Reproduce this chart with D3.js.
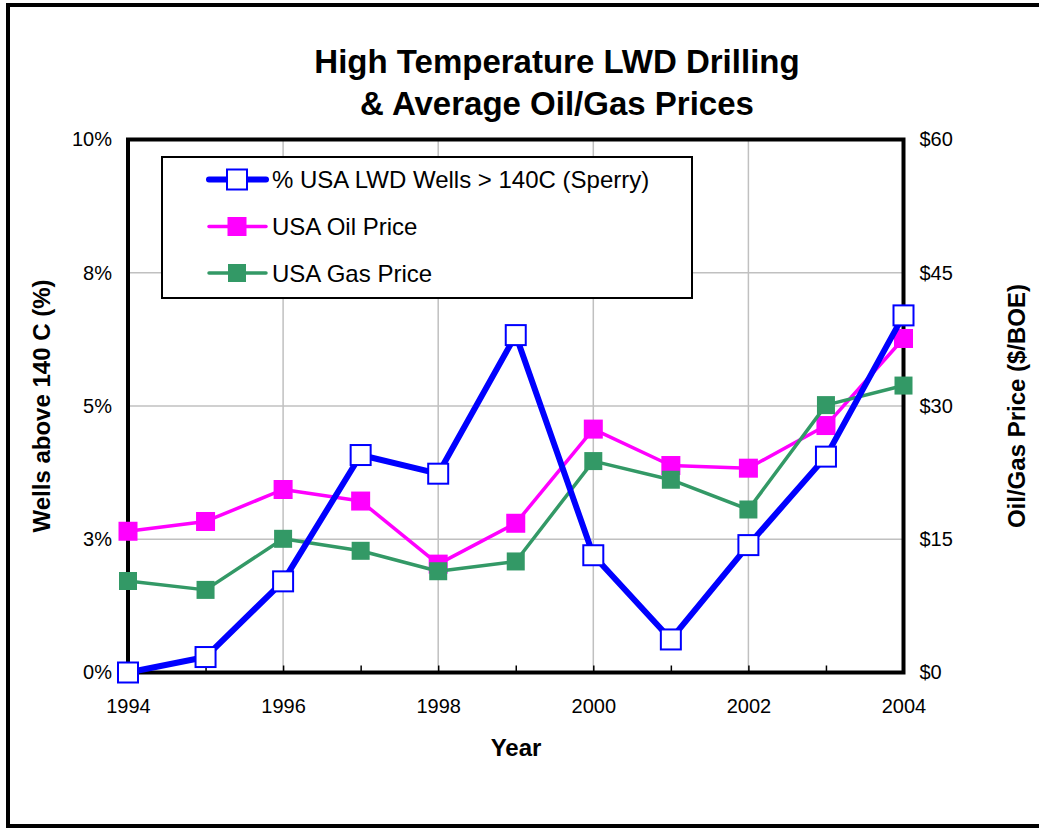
<!DOCTYPE html>
<html>
<head>
<meta charset="utf-8">
<script src="https://cdn.jsdelivr.net/npm/d3@7/dist/d3.min.js"></script>
<style>
  html, body { margin: 0; padding: 0; background: #fff; }
  svg { display: block; font-family: "Liberation Sans", Arial, sans-serif; }
</style>
</head>
<body>
<svg id="chart" width="1039" height="828"></svg>
<script>
// ---- data ----
const years = [1994, 1995, 1996, 1997, 1998, 1999, 2000, 2001, 2002, 2003, 2004];
const wellsPct = [0.0, 0.29, 1.71, 4.08, 3.73, 6.33, 2.20, 0.62, 2.39, 4.05, 6.70];
const oilPrice = [15.9, 17.0, 20.6, 19.3, 12.2, 16.8, 27.4, 23.3, 23.0, 27.8, 37.6];
const gasPrice = [10.3, 9.3, 15.05, 13.7, 11.4, 12.5, 23.8, 21.7, 18.35, 30.1, 32.3];
const leftTickValues = [0, 2.5, 5, 7.5, 10];
const leftTickLabels = ["0%", "3%", "5%", "8%", "10%"];
const rightTickValues = [0, 15, 30, 45, 60];
const rightTickLabels = ["$0", "$15", "$30", "$45", "$60"];
const xLabelYears = [1994, 1996, 1998, 2000, 2002, 2004];
const seriesNames = ["% USA LWD Wells > 140C (Sperry)", "USA Oil Price", "USA Gas Price"];
const titleLines = ["High Temperature LWD Drilling", "& Average Oil/Gas Prices"];

// ---- layout ----
const svg = d3.select("#chart");
const L = 128, R = 903.5, T = 139.5, B = 672.5;
const x = d3.scaleLinear().domain([1994, 2004]).range([L, R]);
const yL = d3.scaleLinear().domain([0, 10]).range([B, T]);
const yR = d3.scaleLinear().domain([0, 60]).range([B, T]);

// outer frame
svg.append("rect").attr("x", 8).attr("y", 5).attr("width", 1040).attr("height", 821)
  .attr("fill", "#fff").attr("stroke", "#000").attr("stroke-width", 4);

// title
svg.append("g").selectAll("text").data(titleLines).join("text")
  .attr("x", 557).attr("y", (d, i) => 73 + i * 42)
  .attr("text-anchor", "middle").attr("font-weight", "bold").attr("font-size", 33)
  .text(d => d);

// gridlines
const grid = svg.append("g").attr("stroke", "#c0c0c0").attr("stroke-width", 1.5);
grid.selectAll("line.h").data(leftTickValues.filter(v => v > 0 && v < 10)).join("line")
  .attr("x1", L).attr("x2", R).attr("y1", d => yL(d)).attr("y2", d => yL(d));
grid.selectAll("line.v").data(xLabelYears.filter(v => v > 1994 && v < 2004)).join("line")
  .attr("y1", T).attr("y2", B).attr("x1", d => x(d)).attr("x2", d => x(d));

// x axis
const xAxis = d3.axisBottom(x).tickValues(years)
  .tickFormat(d => xLabelYears.includes(d) ? String(d) : "")
  .tickSizeInner(-7).tickSizeOuter(0).tickPadding(0);
const gx = svg.append("g").attr("transform", `translate(0,${B})`).call(xAxis);
gx.select(".domain").remove();
gx.selectAll(".tick line").attr("stroke", "#000").attr("stroke-width", 1.5);
gx.selectAll(".tick text").attr("y", 40).attr("dy", null)
  .attr("font-size", 20).attr("font-family", "Liberation Sans, Arial, sans-serif").attr("fill", "#000");

// left axis
const yAxisL = d3.axisLeft(yL).tickValues(leftTickValues)
  .tickFormat((d, i) => leftTickLabels[i]).tickSize(0).tickPadding(16);
const gl = svg.append("g").attr("transform", `translate(${L},0)`).call(yAxisL);
gl.select(".domain").remove();
gl.selectAll(".tick text").attr("font-size", 20).attr("font-family", "Liberation Sans, Arial, sans-serif").attr("fill", "#000");

// right axis
const yAxisR = d3.axisRight(yR).tickValues(rightTickValues)
  .tickFormat((d, i) => rightTickLabels[i]).tickSize(0).tickPadding(16);
const gr = svg.append("g").attr("transform", `translate(${R},0)`).call(yAxisR);
gr.select(".domain").remove();
gr.selectAll(".tick text").attr("font-size", 20).attr("font-family", "Liberation Sans, Arial, sans-serif").attr("fill", "#000");

// plot border
svg.append("rect").attr("x", L).attr("y", T).attr("width", R - L).attr("height", B - T)
  .attr("fill", "none").attr("stroke", "#000").attr("stroke-width", 4);

// axis titles
svg.append("text").attr("x", 516).attr("y", 756).attr("text-anchor", "middle")
  .attr("font-weight", "bold").attr("font-size", 24).text("Year");
svg.append("text").attr("transform", `translate(41,${(T + B) / 2}) rotate(-90)`)
  .attr("text-anchor", "middle").attr("dominant-baseline", "central")
  .attr("font-weight", "bold").attr("font-size", 24).text("Wells above 140 C (%)");
svg.append("text").attr("transform", `translate(1016,${(T + B) / 2}) rotate(-90)`)
  .attr("text-anchor", "middle").attr("dominant-baseline", "central")
  .attr("font-weight", "bold").attr("font-size", 24).text("Oil/Gas Price ($/BOE)");

// series
const colors = { wells: "#0000ff", oil: "#ff00ff", gas: "#339966" };
function drawFilled(values, scale, color, width, size) {
  const g = svg.append("g");
  const line = d3.line().x((d, i) => x(years[i])).y(d => scale(d));
  g.append("path").datum(values).attr("d", line).attr("fill", "none")
    .attr("stroke", color).attr("stroke-width", width).attr("stroke-linejoin", "round");
  g.selectAll("rect").data(values).join("rect")
    .attr("x", (d, i) => x(years[i]) - size / 2).attr("y", d => scale(d) - size / 2)
    .attr("width", size).attr("height", size).attr("fill", color);
}
drawFilled(oilPrice, yR, colors.oil, 3.5, 19);
drawFilled(gasPrice, yR, colors.gas, 3.5, 18);

// wells (primary axis) with hollow squares
const gw = svg.append("g");
gw.append("path").datum(wellsPct)
  .attr("d", d3.line().x((d, i) => x(years[i])).y(d => yL(d)))
  .attr("fill", "none").attr("stroke", colors.wells).attr("stroke-width", 6).attr("stroke-linejoin", "round");
gw.selectAll("rect").data(wellsPct).join("rect")
  .attr("x", (d, i) => x(years[i]) - 10).attr("y", d => yL(d) - 10)
  .attr("width", 20).attr("height", 20).attr("fill", "#fff")
  .attr("stroke", colors.wells).attr("stroke-width", 2);

// legend
const lg = svg.append("g");
lg.append("rect").attr("x", 162).attr("y", 157).attr("width", 530).attr("height", 141)
  .attr("fill", "#fff").attr("stroke", "#000").attr("stroke-width", 2);
const legendRows = [
  { name: seriesNames[0], color: colors.wells, width: 6, size: 20, hollow: true, y: 179.5 },
  { name: seriesNames[1], color: colors.oil, width: 3.5, size: 19, hollow: false, y: 226.5 },
  { name: seriesNames[2], color: colors.gas, width: 3.5, size: 18, hollow: false, y: 273 }
];
legendRows.forEach(r => {
  lg.append("line").attr("x1", 209).attr("x2", 266).attr("y1", r.y).attr("y2", r.y)
    .attr("stroke", r.color).attr("stroke-width", r.width).attr("stroke-linecap", "round");
  lg.append("rect").attr("x", 237 - r.size / 2).attr("y", r.y - r.size / 2)
    .attr("width", r.size).attr("height", r.size)
    .attr("fill", r.hollow ? "#fff" : r.color)
    .attr("stroke", r.hollow ? r.color : "none").attr("stroke-width", 2);
  lg.append("text").attr("x", 272).attr("y", r.y).attr("dominant-baseline", "central")
    .attr("font-size", 24).text(r.name);
});
</script>
</body>
</html>
